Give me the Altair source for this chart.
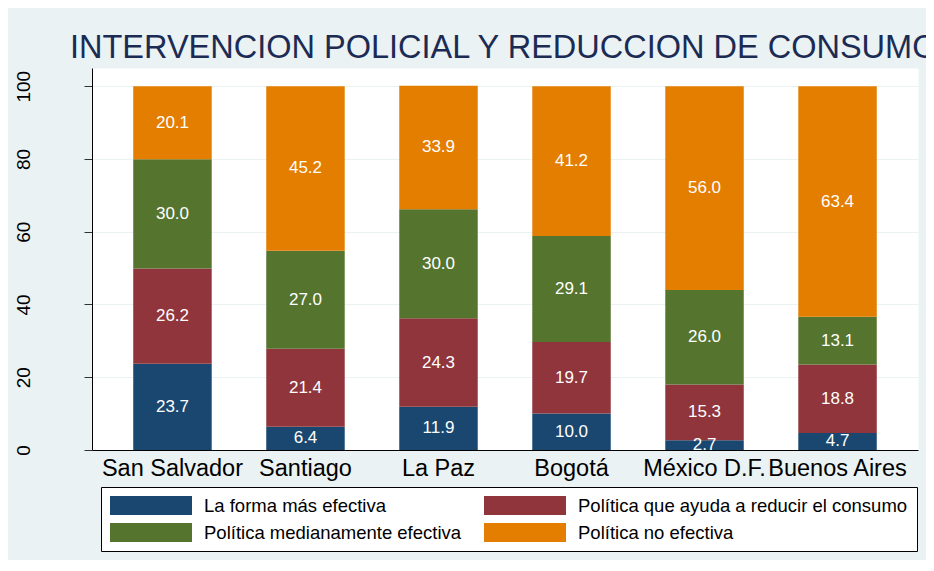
import altair as alt
import pandas as pd

cities = ["San Salvador", "Santiago", "La Paz", "Bogotá", "México D.F.", "Buenos Aires"]
categories = [
    "La forma más efectiva",
    "Política que ayuda a reducir el consumo",
    "Política medianamente efectiva",
    "Política no efectiva",
]
forma_mas_efectiva = [23.7, 6.4, 11.9, 10.0, 2.7, 4.7]
ayuda_reducir = [26.2, 21.4, 24.3, 19.7, 15.3, 18.8]
medianamente = [30.0, 27.0, 30.0, 29.1, 26.0, 13.1]
no_efectiva = [20.1, 45.2, 33.9, 41.2, 56.0, 63.4]
colors = ["#1A476F", "#90353B", "#55752F", "#E37E00"]
y_ticks = [0, 20, 40, 60, 80, 100]
title_text = "INTERVENCION POLICIAL Y REDUCCION DE CONSUMO"

series = [forma_mas_efectiva, ayuda_reducir, medianamente, no_efectiva]
rows = []
for ci, city in enumerate(cities):
    for k, (cat, vals) in enumerate(zip(categories, series)):
        rows.append({"city": city, "cat": cat, "k": k, "value": vals[ci]})
df = pd.DataFrame(rows)

FONT = "Liberation Sans"

x_enc = alt.X(
    "city:N",
    sort=cities,
    scale=alt.Scale(paddingInner=0.41, paddingOuter=0.31),
    axis=alt.Axis(
        title=None, labelAngle=0, ticks=False, labelFontSize=23.5, labelPadding=6,
        domainColor="#000000", domainWidth=1, labelColor="#000000", labelLimit=300,
        labelOverlap=False, labelFont=FONT,
    ),
)
y_scale = alt.Scale(domain=[0, 105], nice=False, zero=True)
y_axis = alt.Axis(
    title=None, values=y_ticks, labelAngle=270, labelAlign="center", labelBaseline="alphabetic",
    labelFontSize=19, labelPadding=55, tickSize=8, tickColor="#333333", domainColor="#000000",
    grid=True, gridColor="#EAF2F3", gridWidth=1, labelColor="#000000", labelFont=FONT,
)

base = alt.Chart(df)

bars = base.mark_bar().encode(
    x=x_enc,
    y=alt.Y("value:Q", stack="zero", scale=y_scale, axis=y_axis),
    color=alt.Color(
        "cat:N",
        scale=alt.Scale(domain=categories, range=colors),
        legend=alt.Legend(
            title=None, orient="none", legendX=9, legendY=419, columns=2, direction="horizontal",
            symbolType="M-1,-0.232H1V0.232H-1Z", symbolSize=6724, symbolStrokeWidth=0,
            symbolOpacity=1, labelFontSize=18.5, labelOffset=12, labelLimit=600,
            rowPadding=8, columnPadding=22, padding=9, fillColor="white",
            strokeColor="black", clipHeight=19, labelColor="#000000", labelFont=FONT,
        ),
    ),
    order=alt.Order("k:Q", sort="ascending"),
)

labels = (
    base.transform_stack(
        stack="value", groupby=["city"], sort=[alt.SortField("k", order="ascending")], as_=["y0", "y1"]
    )
    .transform_calculate(mid="(datum.y0 + datum.y1) / 2")
    .mark_text(color="white", fontSize=17, baseline="middle", align="center", font=FONT)
    .encode(
        x=alt.X("city:N", sort=cities),
        y=alt.Y("mid:Q", scale=y_scale),
        text=alt.Text("value:Q", format=".1f"),
    )
)

chart = (
    alt.layer(bars, labels)
    .properties(
        width=826,
        height=382,
        autosize=alt.AutoSizeParams(type="none"),
        padding={"left": 84, "top": 60, "right": 8, "bottom": 110},
        background="#EAF2F3",
        title=alt.Title(
            title_text, anchor="start", frame="group", dx=-22, dy=32, fontSize=32.5, font=FONT,
            fontWeight="normal", color="#1C2B53", baseline="alphabetic", offset=10,
        ),
    )
    .configure_view(fill="white", stroke="transparent")
)

chart.save("out.html", embed_options={"renderer": "svg", "actions": False})
